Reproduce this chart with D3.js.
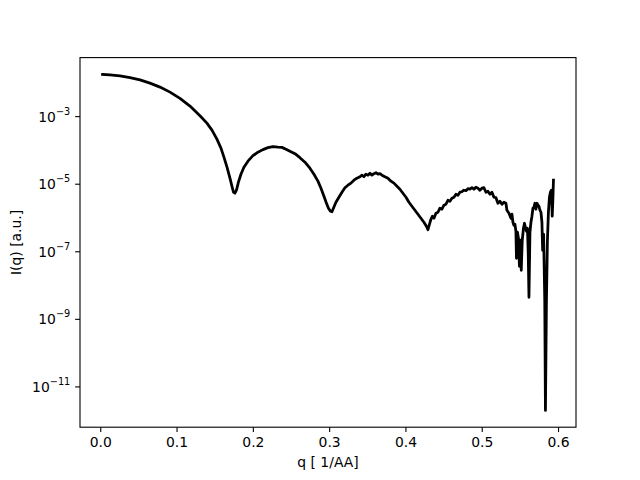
<!DOCTYPE html>
<html><head><meta charset="utf-8">
<script src="https://cdn.jsdelivr.net/npm/d3@7"></script>
<style>body{margin:0;background:#fff}svg{display:block}</style>
</head><body><svg id="c" width="640" height="480"></svg>
<script>
const q = [
0.003,0.0127,0.0258,0.0389,0.0521,0.0651,0.0783,0.0914,0.1045,0.1176,
0.1307,0.1398,0.1464,0.1529,0.1582,0.1621,0.1661,0.1700,0.1726,0.1746,
0.1765,0.1785,0.1811,0.1844,0.1883,0.1936,0.2001,0.2067,0.2132,0.2198,
0.2263,0.2329,0.2381,0.2434,0.2486,0.2552,0.2617,0.2683,0.2748,0.2801,
0.2853,0.2893,0.2932,0.2965,0.2991,0.3017,0.3037,0.3056,0.3089,0.3128,
0.3168,0.3207,0.3246,0.3286,0.3325,0.3364,0.3404,0.3430,0.3456,0.3482,
0.3509,0.3535,0.3561,0.3587,0.3613,0.3640,0.3666,0.3692,0.3731,0.3771,
0.3810,0.3849,0.3889,0.3928,0.3967,0.4007,0.4046,0.4085,0.4125,0.4164,
0.4203,0.4242,0.4275,0.4295,0.4315,0.4334,0.4354,0.4374,0.4400,0.4426,
0.4452,0.4478,0.4505,0.4531,0.4557,0.4583,0.4609,0.4636,0.4662,0.4688,
0.4714,0.4740,0.4767,0.4793,0.4819,0.4845,0.4872,0.4898,0.4924,0.4950,
0.4976,0.5003,0.5029,0.5055,0.5081,0.5108,0.5134,0.5160,0.5186,0.5212,
0.5239,0.5265,0.5291,0.5317,0.5330,0.5357,0.5383,0.5396,0.5409,0.5422,
0.5435,0.5448,0.5455,0.5468,0.5481,0.5494,0.5507,0.5518,0.5531,0.5547,
0.5560,0.5573,0.5586,0.5599,0.5609,0.5619,0.5632,0.5645,0.5658,0.5671,
0.5684,0.5697,0.5710,0.5724,0.5737,0.5750,0.5763,0.5776,0.5789,0.5798,
0.5811,0.5826,0.5835,0.5848,0.5861,0.5874,0.5887,0.5900,0.5913,0.5924,
0.5933,0.5940
];
const intensity = [
1.72e-2,1.66e-2,1.55e-2,1.38e-2,1.18e-2,9.50e-3,7.23e-3,5.14e-3,3.35e-3,1.98e-3,
1.03e-3,6.20e-4,3.85e-4,2.08e-4,1.13e-4,6.10e-5,3.08e-5,1.46e-5,8.43e-6,5.60e-6,
5.23e-6,6.41e-6,1.11e-5,1.91e-5,3.08e-5,4.64e-5,6.75e-5,8.58e-5,1.02e-4,1.17e-4,
1.25e-4,1.21e-4,1.19e-4,1.05e-4,9.18e-5,7.74e-5,5.89e-5,4.34e-5,2.88e-5,1.91e-5,
1.19e-5,7.36e-6,4.27e-6,2.64e-6,1.88e-6,1.53e-6,1.48e-6,1.88e-6,2.83e-6,3.98e-6,
5.60e-6,7.61e-6,9.03e-6,1.04e-5,1.27e-5,1.46e-5,1.61e-5,1.79e-5,1.61e-5,1.91e-5,
1.79e-5,2.05e-5,1.79e-5,1.98e-5,2.12e-5,1.91e-5,1.98e-5,1.79e-5,1.61e-5,1.46e-5,
1.19e-5,1.04e-5,8.43e-6,6.87e-6,5.23e-6,3.98e-6,2.83e-6,2.15e-6,1.64e-6,1.25e-6,
9.51e-7,7.23e-7,5.51e-7,4.34e-7,6.31e-7,8.87e-7,1.09e-6,9.51e-7,1.34e-6,1.43e-6,
1.88e-6,1.76e-6,2.31e-6,2.47e-6,3.24e-6,3.03e-6,3.72e-6,3.98e-6,4.89e-6,4.56e-6,
5.60e-6,5.79e-6,6.41e-6,6.20e-6,7.11e-6,6.87e-6,7.61e-6,6.87e-6,7.88e-6,7.36e-6,
6.41e-6,7.36e-6,7.61e-6,5.60e-6,6.00e-6,4.89e-6,5.60e-6,3.98e-6,3.85e-6,2.64e-6,
3.03e-6,2.47e-6,2.83e-6,2.64e-6,1.64e-6,1.34e-6,9.51e-7,1.25e-6,7.23e-7,5.89e-7,
6.31e-7,3.91e-7,6.20e-8,3.66e-7,2.43e-7,3.60e-8,2.12e-7,2.74e-8,2.12e-7,4.80e-7,
6.76e-7,5.14e-7,3.91e-7,4.80e-7,9.34e-8,4.34e-9,3.66e-7,7.23e-7,1.09e-6,1.88e-6,
2.01e-6,2.64e-6,1.76e-6,2.64e-6,2.31e-6,2.15e-6,1.64e-6,1.43e-6,7.23e-7,1.07e-7,
3.19e-7,3.53e-9,1.95e-12,3.53e-9,2.12e-7,1.43e-6,3.98e-6,5.60e-6,6.41e-6,1.09e-6,
3.72e-6,1.27e-5
];
const xTicks = [0.0, 0.1, 0.2, 0.3, 0.4, 0.5, 0.6];
const xTickLabels = ["0.0", "0.1", "0.2", "0.3", "0.4", "0.5", "0.6"];
const yTickExponents = [-3, -5, -7, -9, -11];
const xLabel = "q [ 1/AA]";
const yLabel = "I(q) [a.u.]";

(function () {
const mLeft = 80, mRight = 576, mTop = 57.6, mBottom = 427.2;
const FONT = "'DejaVu Sans', sans-serif";
const FS = 13.9;
const tickLen = 4.86, tickPad = 4.86;

const [qMin, qMax] = d3.extent(q);
const qPad = (qMax - qMin) * 0.05;
const x = d3.scaleLinear().domain([qMin - qPad, qMax + qPad]).range([mLeft, mRight]);
const lMin = Math.log10(d3.min(intensity)), lMax = Math.log10(d3.max(intensity));
const lPad = (lMax - lMin) * 0.05;
const y = d3.scaleLog().domain([Math.pow(10, lMin - lPad), Math.pow(10, lMax + lPad)]).range([mBottom, mTop]);

const svg = d3.select("#c");
svg.append("rect").attr("width", 640).attr("height", 480).attr("fill", "#fff");

svg.append("defs").append("clipPath").attr("id", "clip")
  .append("rect").attr("x", mLeft).attr("y", mTop).attr("width", mRight - mLeft).attr("height", mBottom - mTop);

const data = q.map((d, i) => [d, intensity[i]]);
const line = d3.line().x(d => x(d[0])).y(d => y(d[1]));
svg.append("path").datum(data)
  .attr("clip-path", "url(#clip)")
  .attr("d", line)
  .attr("fill", "none")
  .attr("stroke", "#000")
  .attr("stroke-width", 2.78)
  .attr("stroke-linejoin", "round")
  .attr("stroke-linecap", "square");

// x axis
const xAxis = d3.axisBottom(x).tickValues(xTicks)
  .tickFormat((d, i) => xTickLabels[i]).tickSize(tickLen).tickPadding(tickPad);
const gx = svg.append("g").attr("transform", `translate(0,${mBottom})`).call(xAxis);
gx.select(".domain").remove();
gx.selectAll(".tick line").attr("stroke", "#000").attr("stroke-width", 1.1);
gx.selectAll(".tick text").attr("font-family", FONT).attr("font-size", FS).attr("fill", "#000");

// y axis
const yAxis = d3.axisLeft(y).tickValues(yTickExponents.map(e => Math.pow(10, e)))
  .tickFormat("").tickSize(tickLen).tickPadding(tickPad);
const gy = svg.append("g").attr("transform", `translate(${mLeft},0)`).call(yAxis);
gy.select(".domain").remove();
gy.selectAll(".tick line").attr("stroke", "#000").attr("stroke-width", 1.1);
gy.selectAll(".tick text").remove();
gy.selectAll(".tick").each(function(d, i) {
  const t = d3.select(this).append("text")
    .attr("x", -(tickLen + tickPad)).attr("y", 0).attr("dy", "0.36em")
    .attr("text-anchor", "end").attr("font-family", FONT).attr("font-size", FS).attr("fill", "#000");
  t.append("tspan").text("10");
  t.append("tspan").attr("font-size", FS * 0.7).attr("dy", -FS * 0.5)
    .text("\u2212" + Math.abs(yTickExponents[i]));
});

// spines
svg.append("rect").attr("x", mLeft).attr("y", mTop).attr("width", mRight - mLeft).attr("height", mBottom - mTop)
  .attr("fill", "none").attr("stroke", "#000").attr("stroke-width", 1.1);

// labels
svg.append("text").attr("x", (mLeft + mRight) / 2).attr("y", 467)
  .attr("text-anchor", "middle").attr("font-family", FONT).attr("font-size", FS).attr("fill", "#000")
  .text(xLabel);
svg.append("text").attr("transform", `translate(21,${(mTop + mBottom) / 2}) rotate(-90)`)
  .attr("text-anchor", "middle").attr("font-family", FONT).attr("font-size", FS).attr("fill", "#000")
  .text(yLabel);
})();
</script>
</body></html>
